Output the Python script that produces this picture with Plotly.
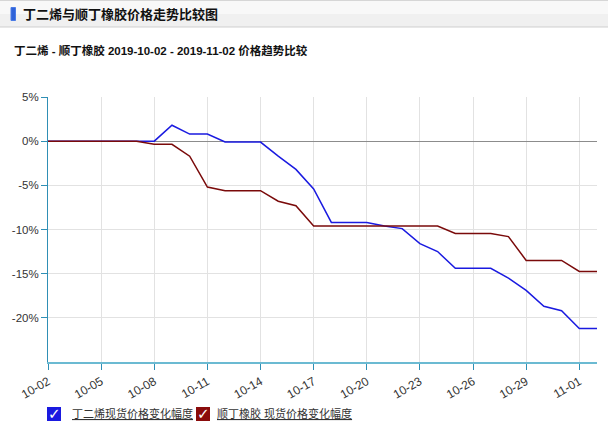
import plotly.graph_objects as go

# daily values (% change vs 2019-10-02)
dates = ["2019-10-02", "2019-10-03", "2019-10-04", "2019-10-05", "2019-10-06", "2019-10-07",
         "2019-10-08", "2019-10-09", "2019-10-10", "2019-10-11", "2019-10-12", "2019-10-13",
         "2019-10-14", "2019-10-15", "2019-10-16", "2019-10-17", "2019-10-18", "2019-10-19",
         "2019-10-20", "2019-10-21", "2019-10-22", "2019-10-23", "2019-10-24", "2019-10-25",
         "2019-10-26", "2019-10-27", "2019-10-28", "2019-10-29", "2019-10-30", "2019-10-31",
         "2019-11-01", "2019-11-02"]
butadiene = [0, 0, 0, 0, 0, 0,
             0, 1.8, 0.8, 0.8, -0.1, -0.1,
             -0.1, -1.7, -3.2, -5.4, -9.2, -9.2,
             -9.2, -9.6, -9.9, -11.6, -12.5, -14.4,
             -14.4, -14.4, -15.5, -16.9, -18.7, -19.2,
             -21.2, -21.2]
br_rubber = [0, 0, 0, 0, 0, 0,
             -0.35, -0.35, -1.7, -5.2, -5.6, -5.6,
             -5.6, -6.8, -7.3, -9.6, -9.6, -9.6,
             -9.6, -9.6, -9.6, -9.6, -9.6, -10.45,
             -10.45, -10.45, -10.8, -13.5, -13.5, -13.5,
             -14.75, -14.75]
y_ticks = [5, 0, -5, -10, -15, -20]
y_labels = ["5%", "0%", "-5%", "-10%", "-15%", "-20%"]

name_a = "丁二烯现货价格变化幅度"
name_b = "顺丁橡胶 现货价格变化幅度"
header = "丁二烯与顺丁橡胶价格走势比较图"
title = "丁二烯 - 顺丁橡胶 2019-10-02 - 2019-11-02 价格趋势比较"

blue = "#1a1ae0"
red = "#7a0a0a"
cjk = "Liberation Sans, Noto Sans CJK SC, sans-serif"

W, H = 608, 431
L, R, T, B = 48, 11, 97, 69


# pixel -> paper helpers
def px(x):
    return (x - L) / (W - L - R)


def py(y):
    return (H - B - y) / (H - T - B)


fig = go.Figure()
fig.add_trace(go.Scatter(x=dates, y=butadiene, mode="lines", name=name_a,
                         line=dict(color=blue, width=1.5)))
fig.add_trace(go.Scatter(x=dates, y=br_rubber, mode="lines", name=name_b,
                         line=dict(color=red, width=1.5)))

shapes = [
    # header bar
    dict(type="rect", xref="paper", yref="paper", x0=px(0), x1=px(W), y0=py(27), y1=py(0),
         fillcolor="#f0f0f0", line=dict(width=0), layer="below"),
    dict(type="rect", xref="paper", yref="paper", x0=px(0), x1=px(W), y0=py(14), y1=py(0),
         fillcolor="#f8f8f8", line=dict(width=0), layer="below"),
    dict(type="line", xref="paper", yref="paper", x0=px(0), x1=px(W), y0=py(0.5), y1=py(0.5),
         line=dict(color="#d6d6d6", width=1)),
    dict(type="line", xref="paper", yref="paper", x0=px(0), x1=px(W), y0=py(27), y1=py(27),
         line=dict(color="#cfcfcf", width=1)),
    # blue pill icon
    dict(type="rect", xref="paper", yref="paper", x0=px(11), x1=px(15.5), y0=py(20.5), y1=py(7.5),
         fillcolor="#2f62d8", line=dict(color="#4a7be6", width=1)),
    # legend boxes
    dict(type="rect", xref="paper", yref="paper", x0=px(47), x1=px(61), y0=py(421), y1=py(407),
         fillcolor=blue, line=dict(width=0)),
    dict(type="rect", xref="paper", yref="paper", x0=px(196), x1=px(210), y0=py(421), y1=py(407),
         fillcolor="#8a0c0c", line=dict(width=0)),
]

annotations = [
    dict(text="<b>" + header + "</b>", xref="paper", yref="paper", x=px(21), y=py(14),
         xanchor="left", yanchor="middle", showarrow=False,
         font=dict(family=cjk, size=13, color="#111")),
    dict(text="<b>" + title + "</b>", xref="paper", yref="paper", x=px(12), y=py(50),
         xanchor="left", yanchor="middle", showarrow=False,
         font=dict(family=cjk, size=11.5, color="#111")),
    dict(text="<b>✓</b>", xref="paper", yref="paper", x=px(54), y=py(414),
         xanchor="center", yanchor="middle", showarrow=False,
         font=dict(family="DejaVu Sans", size=15, color="white")),
    dict(text="<b>✓</b>", xref="paper", yref="paper", x=px(203), y=py(414),
         xanchor="center", yanchor="middle", showarrow=False,
         font=dict(family="DejaVu Sans", size=15, color="white")),
    dict(text="<u>" + name_a + "</u>", xref="paper", yref="paper", x=px(70), y=py(413),
         xanchor="left", yanchor="middle", showarrow=False,
         font=dict(family=cjk, size=11, color="#333")),
    dict(text="<u>" + name_b + "</u>", xref="paper", yref="paper", x=px(215), y=py(413),
         xanchor="left", yanchor="middle", showarrow=False,
         font=dict(family=cjk, size=11, color="#333")),
]

fig.update_layout(
    width=W, height=H,
    margin=dict(l=L, r=R, t=T, b=B, autoexpand=False),
    paper_bgcolor="white", plot_bgcolor="white",
    showlegend=False,
    shapes=shapes,
    annotations=annotations,
    xaxis=dict(type="date", range=["2019-10-02", "2019-11-02"],
               tick0="2019-10-02", dtick=3 * 86400000, tickformat="%m-%d",
               tickangle=-30, showgrid=True, gridcolor="#e2e2e2",
               showline=True, linecolor="#6bbad2", linewidth=2,
               ticks="outside", ticklen=6, tickcolor="#2f8fb5", tickwidth=1,
               tickfont=dict(family="Liberation Sans", size=12, color="#333"),
               zeroline=False, automargin=False),
    yaxis=dict(range=[-25, 5], tickmode="array", tickvals=y_ticks, ticktext=y_labels,
               showgrid=True, gridcolor="#e2e2e2",
               showline=True, linecolor="#2f8fb5", linewidth=1,
               ticks="outside", ticklen=6, tickcolor="#2f8fb5",
               zeroline=True, zerolinecolor="#8c8c8c", zerolinewidth=1,
               tickfont=dict(family="Liberation Sans", size=11.5, color="#333"),
               automargin=False),
)

# drop the browser's default 8px body margin so the figure sits at the page corner
fig.write_html("out.html", config={"displayModeBar": False},
               post_script="document.body.style.margin='0';")
